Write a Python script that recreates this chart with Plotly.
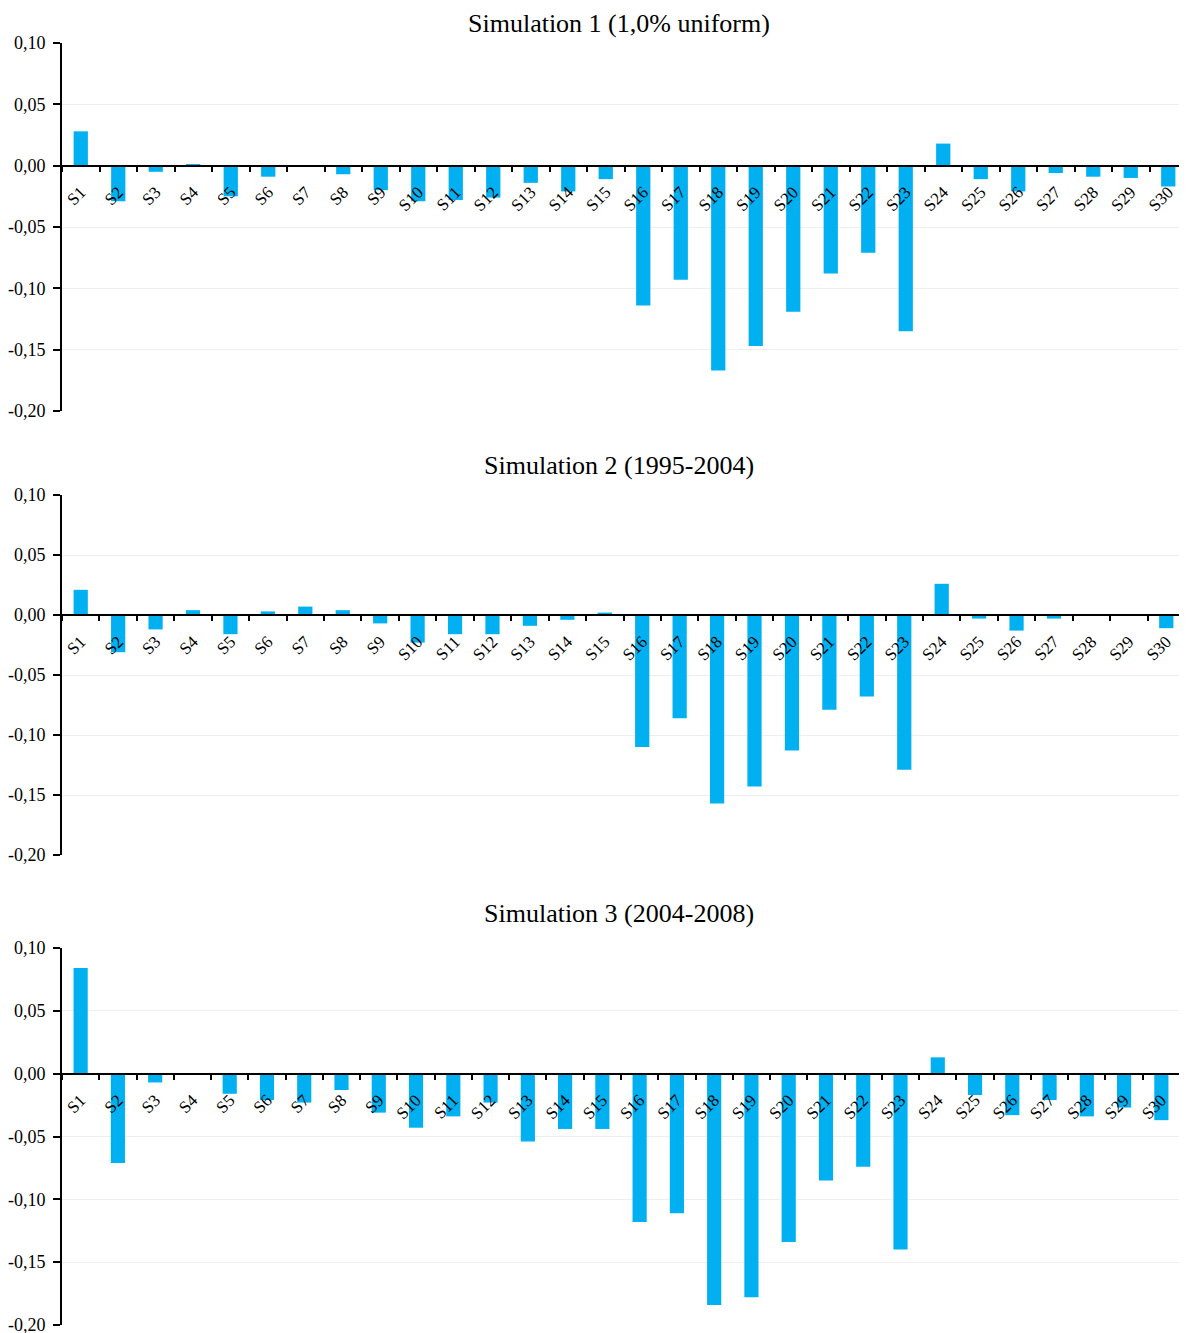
import plotly.graph_objects as go

categories = [f"S{i}" for i in range(1, 31)]

sim1_values = [0.028, -0.029, -0.005, 0.001, -0.025, -0.009, 0.0, -0.007, -0.020, -0.029,
               -0.028, -0.026, -0.014, -0.021, -0.011, -0.114, -0.093, -0.167, -0.147, -0.119,
               -0.088, -0.071, -0.135, 0.018, -0.011, -0.021, -0.006, -0.009, -0.010, -0.017]

sim2_values = [0.021, -0.031, -0.012, 0.004, -0.016, 0.003, 0.007, 0.004, -0.007, -0.023,
               -0.016, -0.016, -0.009, -0.004, 0.002, -0.110, -0.086, -0.157, -0.143, -0.113,
               -0.079, -0.068, -0.129, 0.026, -0.003, -0.013, -0.003, 0.0, 0.0, -0.011]

sim3_values = [0.084, -0.071, -0.007, 0.0, -0.016, -0.021, -0.023, -0.013, -0.031, -0.043,
               -0.034, -0.023, -0.054, -0.044, -0.044, -0.118, -0.111, -0.184, -0.178, -0.134,
               -0.085, -0.074, -0.140, 0.013, -0.017, -0.033, -0.021, -0.034, -0.027, -0.037]

titles = ["Simulation 1 (1,0% uniform)", "Simulation 2 (1995-2004)", "Simulation 3 (2004-2008)"]
y_tick_values = [0.10, 0.05, 0.00, -0.05, -0.10, -0.15, -0.20]
y_tick_labels = ["0,10", "0,05", "0,00", "-0,05", "-0,10", "-0,15", "-0,20"]

# page has an 8px body margin; figure coordinates = page coordinates - 8
W, H = 1179, 1333
FONT = "Liberation Serif"
BAR_COLOR = "#00B0F0"

# pixel geometry of each panel in figure coords: (top, bottom, left, right, title_y)
panels = [
    (35, 403, 54, 1179, 13),
    (487, 847, 54, 1177, 457),
    (940, 1317, 54, 1172, 905),
]
ymin, ymax = -0.20, 0.10

fig = go.Figure()
series = [sim1_values, sim2_values, sim3_values]
annotations = []
for i, (vals, (top, bot, left, right, ty)) in enumerate(zip(series, panels), start=1):
    sfx = "" if i == 1 else str(i)
    fig.add_trace(go.Bar(
        x=categories, y=vals, marker_color=BAR_COLOR, marker_line_width=0,
        xaxis=f"x{sfx}", yaxis=f"y{sfx}", showlegend=False,
    ))
    d0 = 1 - bot / H
    d1 = 1 - top / H
    zero_pos = d0 + (0 - ymin) / (ymax - ymin) * (d1 - d0)
    fig.layout[f"xaxis{sfx}"] = dict(
        domain=[left / W, right / W], anchor="free", position=zero_pos,
        type="category", showline=True, linecolor="black", linewidth=2,
        ticks="outside", tickson="boundaries", ticklen=5, tickcolor="black", tickwidth=2,
        tickangle=-45, ticklabelstandoff=9,
        tickfont=dict(family=FONT, size=17, color="black"),
        showgrid=False, automargin=False, fixedrange=True,
    )
    fig.layout[f"yaxis{sfx}"] = dict(
        domain=[d0, d1], anchor=f"x{sfx}", range=[ymin, ymax],
        tickvals=y_tick_values, ticktext=y_tick_labels,
        showline=True, linecolor="black", linewidth=2,
        ticks="outside", ticklen=7, tickcolor="black", tickwidth=2, ticklabelstandoff=4,
        showgrid=True, gridcolor="#eeeeee", gridwidth=1, zeroline=False,
        tickfont=dict(family=FONT, size=18, color="black"), automargin=False,
    )
    if i == 1:
        annotations.append(dict(
            text=titles[i - 1], x=611 / W, y=1, xref="paper", yref="paper",
            xanchor="center", yanchor="top", showarrow=False, borderpad=0,
            font=dict(family=FONT, size=26, color="black"),
        ))
    else:
        annotations.append(dict(
            text=titles[i - 1], x=611 / W, y=1 - ty / H, xref="paper", yref="paper",
            xanchor="center", yanchor="middle", showarrow=False,
            font=dict(family=FONT, size=26, color="black"),
        ))

fig.update_layout(
    width=W, height=H, margin=dict(l=0, r=0, t=0, b=0, autoexpand=False),
    plot_bgcolor="white", paper_bgcolor="white",
    bargap=0.62, annotations=annotations,
)
fig.write_html("out.html")
